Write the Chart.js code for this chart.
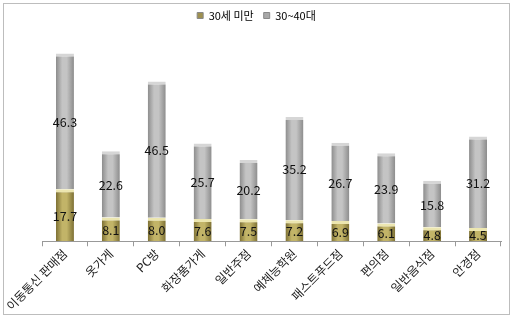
<!DOCTYPE html>
<html>
<head>
<meta charset="utf-8">
<script src="https://cdn.jsdelivr.net/npm/chart.js@4/dist/chart.umd.min.js"></script>
<style>
  body { margin: 0; background: #fff; }
  #wrap { position: relative; width: 513px; height: 319px; }
  #frame { position: absolute; left: 3px; top: 3px; width: 505px; height: 310px; border: 1px solid #bdbdbd; pointer-events: none; }
</style>
</head>
<body>
<div id="wrap">
  <canvas id="storeChart" width="513" height="319"></canvas>
  <div id="frame"></div>
</div>
<script>
var categories = ['이동통신 판매점', '옷가게', 'PC방', '화장품가게', '일반주점', '예체능학원', '패스트푸드점', '편의점', '일반음식점', '안경점'];
var under30 = [17.7, 8.1, 8.0, 7.6, 7.5, 7.2, 6.9, 6.1, 4.8, 4.5];
var age30to40 = [46.3, 22.6, 46.5, 25.7, 20.2, 35.2, 26.7, 23.9, 15.8, 31.2];
var seriesNames = ['30세 미만', '30~40대'];

var koFont = "'Noto Sans CJK KR', 'Noto Sans', sans-serif";

// horizontal gradient to mimic the cylinder look of each bar
function barGradient(ctx, edge, light) {
  var chart = ctx.chart;
  var x = chart.scales.x;
  if (!x || !chart.chartArea) return light;
  var cx = x.getPixelForValue(ctx.dataIndex);
  var half = 9;
  var g = chart.ctx.createLinearGradient(cx - half, 0, cx + half, 0);
  g.addColorStop(0, edge);
  g.addColorStop(0.35, light);
  g.addColorStop(0.6, light);
  g.addColorStop(1, edge);
  return g;
}

var valueLabels = {
  id: 'valueLabels',
  afterDatasetsDraw: function (chart) {
    var ctx = chart.ctx;
    ctx.save();
    ctx.font = '12.5px ' + koFont;
    ctx.fillStyle = '#111';
    ctx.textAlign = 'center';
    ctx.textBaseline = 'middle';
    chart.data.datasets.forEach(function (ds, i) {
      chart.getDatasetMeta(i).data.forEach(function (bar, j) {
        var mid = (bar.y + bar.base) / 2;
        ctx.fillText(ds.data[j].toFixed(1), bar.x, mid + 1);
      });
    });
    ctx.restore();
  }
};

// empty side axes only reserve room, so the legend stays centred on the page
function spacer(w) {
  return {
    display: true,
    grid: { display: false },
    border: { display: false },
    ticks: { display: false },
    afterFit: function (s) { s.width = w; }
  };
}

var leftSpace = spacer(42);
var rightSpace = spacer(12);
rightSpace.position = 'right';

new Chart(document.getElementById('storeChart').getContext('2d'), {
  type: 'bar',
  data: {
    labels: categories,
    datasets: [
      {
        label: seriesNames[0],
        data: under30,
        backgroundColor: function (c) { return barGradient(c, '#7d7034', '#c2b468'); },
        borderColor: '#ece6b0',
        borderWidth: { top: 3, left: 0, right: 0, bottom: 0 },
        borderSkipped: false,
        barPercentage: 0.8,
        categoryPercentage: 0.49
      },
      {
        label: seriesNames[1],
        data: age30to40,
        backgroundColor: function (c) { return barGradient(c, '#8c8c8c', '#c4c4c4'); },
        borderColor: '#d6d6d6',
        borderWidth: { top: 3, left: 0, right: 0, bottom: 0 },
        borderSkipped: false,
        barPercentage: 0.8,
        categoryPercentage: 0.49
      }
    ]
  },
  options: {
    responsive: false,
    animation: false,
    layout: { padding: { left: 0, right: 0, top: 0, bottom: 6 } },
    plugins: {
      legend: {
        position: 'top',
        labels: {
          font: { family: koFont, size: 11 },
          color: '#333',
          boxWidth: 6,
          boxHeight: 6,
          padding: 10,
          generateLabels: function (chart) {
            var cols = ['#9e9050', '#a8a8a8'];
            return chart.data.datasets.map(function (ds, i) {
              return { text: ds.label, fillStyle: cols[i], strokeStyle: '#888', lineWidth: 1, datasetIndex: i };
            });
          }
        }
      },
      tooltip: { enabled: false }
    },
    scales: {
      x: {
        stacked: true,
        grid: { offset: true, drawOnChartArea: false, tickLength: 5, color: '#999' },
        border: { color: '#999' },
        ticks: {
          maxRotation: 45,
          minRotation: 45,
          font: { family: koFont, size: 12 },
          color: '#222',
          padding: 0
        }
      },
      y: Object.assign(leftSpace, { stacked: true, min: 0, max: 71.7 }),
      yRight: Object.assign(rightSpace, { min: 0, max: 1 })
    }
  },
  plugins: [valueLabels]
});
</script>
</body>
</html>
